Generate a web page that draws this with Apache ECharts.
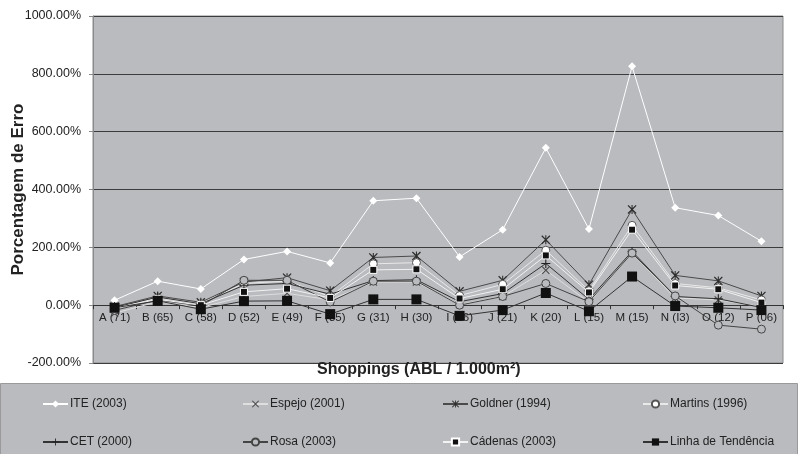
<!DOCTYPE html>
<html>
<head>
<meta charset="utf-8">
<script src="https://cdn.jsdelivr.net/npm/echarts@6/dist/echarts.min.js"></script>
<style>
  html, body { margin: 0; padding: 0; background: #ffffff; }
  #chart { width: 798px; height: 454px; }
</style>
</head>
<body>
<div id="chart"></div>
<script>
// Shopping centres (gross leasable area / 1,000 m²)
const categories = ['A (71)', 'B (65)', 'C (58)', 'D (52)', 'E (49)', 'F (35)', 'G (31)', 'H (30)',
  'I (26)', 'J (21)', 'K (20)', 'L (15)', 'M (15)', 'N (I3)', 'O (12)', 'P (06)'];

// Percentage error of each trip-generation model
const iteValues     = [17, 83, 56, 158, 186, 146, 361, 370, 167, 261, 544, 263, 826, 337, 310, 221];
const espejoValues  = [-28, 12, -8, 30, 41, 18, 80, 80, 2, 30, 121, 10, 180, 25, 18, -5];
const goldnerValues = [-5, 32, 10, 80, 95, 50, 165, 170, 48, 86, 226, 71, 331, 103, 84, 32];
const martinsValues = [-12, 25, 5, 75, 83, 30, 143, 147, 33, 72, 190, 50, 276, 75, 60, 18];
const cetValues     = [-8, 28, 5, 69, 75, 38, 85, 88, 12, 40, 144, 20, 186, 30, 22, -8];
const rosaValues    = [-18, 18, -2, 86, 86, 11, 83, 83, 0, 30, 75, 12, 180, 32, -69, -83];
const cadenasValues = [-10, 20, 0, 46, 57, 25, 122, 124, 23, 55, 172, 44, 261, 68, 55, 9];
const trendValues   = [-9, 15, -14, 14, 15, -31, 20, 20, -37, -17, 42, -21, 99, -3, -9, -17];

const yTicks = { min: -200, max: 1000, step: 200 };

// Marker shapes
const crossPath = 'path://M0,1 L1,0 L5,4 L9,0 L10,1 L6,5 L10,9 L9,10 L5,6 L1,10 L0,9 L4,5 Z';
const plusPath = 'path://M4.4,0 H5.6 V4.4 H10 V5.6 H5.6 V10 H4.4 V5.6 H0 V4.4 H4.4 Z';
const starPath = 'path://M0,1 L1,0 L5,4 L9,0 L10,1 L6,5 L10,9 L9,10 L5,6 L1,10 L0,9 L4,5 Z M4.4,0 H5.6 V10 H4.4 Z';

const FONT = 'Liberation Sans, Arial, sans-serif';
const PLOT_BG = '#babbbf';

// Plot frame
const GRID = { left: 93, right: 15, top: 16, bottom: 91 };
const CHART_H = 454;
const plotHeight = CHART_H - GRID.top - GRID.bottom;
// The category axis runs along the 0% line: shift it up from the plot bottom
const zeroOffset = -plotHeight * (0 - yTicks.min) / (yTicks.max - yTicks.min);

function lineSeries(name, data, lineColor, symbol, symbolSize, markerFill, markerBorder, z) {
  return {
    name: name,
    type: 'line',
    data: data,
    symbol: symbol,
    symbolSize: symbolSize,
    symbolKeepAspect: true,
    showAllSymbol: true,
    z: z,
    lineStyle: { color: lineColor, width: 1 },
    itemStyle: {
      color: markerFill,
      borderColor: markerBorder,
      borderWidth: markerBorder ? 1 : 0
    },
    emphasis: { disabled: true }
  };
}

const seriesList = [
  lineSeries('ITE (2003)', iteValues, '#ffffff', 'diamond', 8, '#ffffff', null, 3),
  lineSeries('Espejo (2001)', espejoValues, '#dedede', crossPath, 8, '#4a4a4a', null, 3),
  lineSeries('Goldner (1994)', goldnerValues, '#4a4a4a', starPath, 9, '#2e2e2e', null, 3),
  lineSeries('Martins (1996)', martinsValues, '#e9e9e9', 'circle', 8, '#ffffff', '#555555', 3),
  lineSeries('CET (2000)', cetValues, '#333333', plusPath, 9, '#222222', null, 3),
  lineSeries('Rosa (2003)', rosaValues, '#444444', 'circle', 8, PLOT_BG, '#444444', 3),
  lineSeries('Cádenas (2003)', cadenasValues, '#f2f2f2', 'rect', 7, '#111111', '#ffffff', 4),
  lineSeries('Linha de Tendência', trendValues, '#333333', 'rect', 10, '#111111', null, 4)
];

// Legend laid out as a 4 x 2 table
const legendCols = [42, 242, 442, 642];
const legendRows = [398, 436];
const legends = seriesList.map(function (s, i) {
  return {
    data: [s.name],
    left: legendCols[i % 4],
    top: legendRows[Math.floor(i / 4)],
    itemWidth: 25,
    itemHeight: 9,
    itemGap: 0,
    padding: 0,
    selectedMode: false,
    textStyle: { fontFamily: FONT, fontSize: 12, color: '#222222', padding: [0, 0, 0, -3] }
  };
});

const chart = echarts.init(document.getElementById('chart'), null, { renderer: 'canvas' });

chart.setOption({
  animation: false,
  backgroundColor: '#ffffff',
  title: {
    text: 'Shoppings (ABL / 1.000m²)',
    left: 317,
    top: 362,
    padding: 0,
    textStyle: { fontFamily: FONT, fontSize: 16, fontWeight: 'bold', color: '#222222' }
  },
  graphic: [
    {
      // legend panel
      type: 'rect',
      z: -1,
      shape: { x: 0.5, y: 383.5, width: 797, height: 72 },
      style: { fill: PLOT_BG, stroke: '#9a9a9a', lineWidth: 1 }
    },
    {
      // value axis title
      type: 'text',
      x: 18,
      y: GRID.top + plotHeight / 2,
      rotation: Math.PI / 2,
      style: {
        text: 'Porcentagem de Erro',
        font: 'bold 17px ' + FONT,
        fill: '#222222',
        align: 'center',
        verticalAlign: 'middle'
      }
    }
  ],
  legend: legends,
  grid: {
    left: GRID.left,
    right: GRID.right,
    top: GRID.top,
    bottom: GRID.bottom,
    outerBoundsMode: 'none',
    containLabel: false,
    show: true,
    backgroundColor: PLOT_BG,
    borderColor: '#8a8a8a',
    borderWidth: 1
  },
  xAxis: {
    type: 'category',
    data: categories,
    boundaryGap: true,
    offset: zeroOffset,
    axisLine: { onZero: false, lineStyle: { color: '#333333', width: 1 } },
    axisTick: { show: true, length: 4, lineStyle: { color: '#333333' } },
    axisLabel: { interval: 0, fontFamily: FONT, fontSize: 11.5, color: '#222222', margin: 7 },
    splitLine: { show: false }
  },
  yAxis: {
    type: 'value',
    min: yTicks.min,
    max: yTicks.max,
    interval: yTicks.step,
    axisLine: { show: true, lineStyle: { color: '#8a8a8a' } },
    axisTick: { show: true, length: 4, lineStyle: { color: '#8a8a8a' } },
    axisLabel: {
      fontFamily: FONT, fontSize: 12.5, color: '#222222', margin: 12,
      formatter: function (v) { return v.toFixed(2) + '%'; }
    },
    splitLine: { show: true, lineStyle: { color: '#3c3c3c', width: 1 } }
  },
  series: seriesList
});
</script>
</body>
</html>
